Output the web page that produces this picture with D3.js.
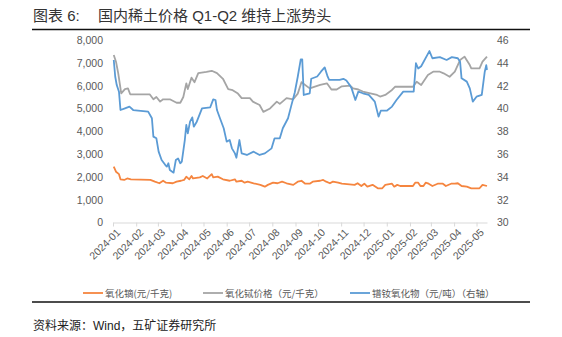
<!DOCTYPE html>
<html>
<head>
<meta charset="utf-8">
<script src="https://cdn.jsdelivr.net/npm/d3@7"></script>
<style>
  body { margin: 0; background: #fff; }
  svg { display: block; }
</style>
</head>
<body>
<svg id="chart"></svg>
<script>
// Series values: [date, value]
var dysprosium = [ // 氧化镝 (元/千克), left axis
  ["2024-01-02", 2446], ["2024-01-05", 2227], ["2024-01-09", 2119], ["2024-01-11", 1893],
  ["2024-01-16", 1865], ["2024-01-20", 1930], ["2024-01-25", 1893], ["2024-02-20", 1865],
  ["2024-02-26", 1790], ["2024-03-03", 1720], ["2024-03-08", 1830], ["2024-03-12", 1745],
  ["2024-03-21", 1720], ["2024-03-26", 1790], ["2024-04-01", 1830], ["2024-04-05", 1865],
  ["2024-04-08", 2010], ["2024-04-12", 1893], ["2024-04-15", 2040], ["2024-04-17", 1930],
  ["2024-04-26", 1980], ["2024-04-30", 2040], ["2024-05-06", 1930], ["2024-05-12", 2120],
  ["2024-05-14", 1980], ["2024-05-20", 2010], ["2024-05-27", 1893], ["2024-06-05", 1830],
  ["2024-06-12", 1893], ["2024-06-14", 1790], ["2024-06-21", 1830], ["2024-06-25", 1745],
  ["2024-06-29", 1790], ["2024-07-07", 1720], ["2024-07-16", 1650], ["2024-07-22", 1570],
  ["2024-07-26", 1650], ["2024-08-02", 1745], ["2024-08-08", 1720], ["2024-08-14", 1790],
  ["2024-08-20", 1720], ["2024-08-29", 1650], ["2024-09-04", 1790], ["2024-09-09", 1830],
  ["2024-09-14", 1700], ["2024-09-20", 1700], ["2024-09-24", 1790], ["2024-10-04", 1830],
  ["2024-10-08", 1865], ["2024-10-12", 1790], ["2024-10-17", 1720], ["2024-10-21", 1790],
  ["2024-10-28", 1745], ["2024-11-02", 1700], ["2024-11-19", 1650], ["2024-11-23", 1720],
  ["2024-11-28", 1600], ["2024-12-02", 1700], ["2024-12-06", 1570], ["2024-12-13", 1650],
  ["2024-12-20", 1500], ["2024-12-26", 1500], ["2024-12-30", 1650], ["2025-01-08", 1700],
  ["2025-01-11", 1570], ["2025-01-15", 1650], ["2025-01-19", 1600], ["2025-02-05", 1600],
  ["2025-02-08", 1745], ["2025-02-12", 1745], ["2025-02-15", 1600], ["2025-02-19", 1600],
  ["2025-02-22", 1745], ["2025-02-26", 1700], ["2025-03-03", 1600], ["2025-03-10", 1700],
  ["2025-03-17", 1700], ["2025-03-21", 1600], ["2025-03-28", 1700], ["2025-04-02", 1700],
  ["2025-04-06", 1720], ["2025-04-11", 1600], ["2025-04-18", 1570], ["2025-04-24", 1500],
  ["2025-05-05", 1500], ["2025-05-09", 1650], ["2025-05-15", 1600]
];

var terbium = [ // 氧化铽价格 (元/千克), left axis
  ["2024-01-02", 7340], ["2024-01-05", 7050], ["2024-01-08", 6540], ["2024-01-12", 5660],
  ["2024-01-17", 5850], ["2024-01-21", 5880], ["2024-01-24", 5620], ["2024-02-19", 5620],
  ["2024-02-24", 5400], ["2024-02-28", 5500], ["2024-03-04", 5300], ["2024-03-08", 5400],
  ["2024-03-17", 5400], ["2024-03-26", 5250], ["2024-03-31", 5250], ["2024-04-04", 5500],
  ["2024-04-08", 6100], ["2024-04-10", 5850], ["2024-04-15", 6350], ["2024-04-19", 6150],
  ["2024-04-24", 6550], ["2024-05-05", 6600], ["2024-05-12", 6650], ["2024-05-19", 6550],
  ["2024-05-27", 6300], ["2024-06-03", 5850], ["2024-06-09", 5800], ["2024-06-16", 5650],
  ["2024-06-21", 5450], ["2024-07-02", 5450], ["2024-07-06", 5300], ["2024-07-15", 5150],
  ["2024-07-20", 4850], ["2024-07-29", 5000], ["2024-08-07", 5300], ["2024-08-11", 5200],
  ["2024-08-20", 5450], ["2024-08-29", 5400], ["2024-09-04", 5650], ["2024-09-09", 6150],
  ["2024-09-20", 5880], ["2024-10-04", 6030], ["2024-10-13", 6100], ["2024-10-19", 5830],
  ["2024-10-26", 5830], ["2024-11-02", 5970], ["2024-11-13", 6000], ["2024-11-17", 5880],
  ["2024-11-24", 5830], ["2024-11-30", 5740], ["2024-12-10", 5660], ["2024-12-19", 5590],
  ["2024-12-23", 5520], ["2024-12-30", 5590], ["2025-01-08", 5810], ["2025-01-12", 5950],
  ["2025-02-05", 5950], ["2025-02-10", 6170], ["2025-02-16", 6030], ["2025-02-25", 6470],
  ["2025-03-04", 6610], ["2025-03-13", 6610], ["2025-03-18", 6540], ["2025-03-26", 6390],
  ["2025-04-02", 6610], ["2025-04-09", 7120], ["2025-04-15", 7270], ["2025-04-22", 6900],
  ["2025-04-24", 6760], ["2025-05-05", 6760], ["2025-05-09", 7050], ["2025-05-15", 7270]
];

var prnd = [ // 镨钕氧化物 (元/吨), right axis
  ["2024-01-02", 44.25], ["2024-01-04", 42.78], ["2024-01-06", 42.05], ["2024-01-09", 41.47],
  ["2024-01-11", 39.86], ["2024-01-17", 40.01], ["2024-01-23", 40.16], ["2024-01-28", 39.86],
  ["2024-02-17", 39.72], ["2024-02-22", 39.14], ["2024-02-24", 37.53], ["2024-02-28", 37.38],
  ["2024-03-02", 36.21], ["2024-03-06", 35.48], ["2024-03-11", 35.04], ["2024-03-13", 34.9],
  ["2024-03-15", 35.19], ["2024-03-17", 34.6], ["2024-03-22", 34.37], ["2024-03-25", 35.48],
  ["2024-03-28", 35.62], ["2024-03-31", 35.19], ["2024-04-02", 35.33], ["2024-04-06", 37.23],
  ["2024-04-08", 38.55], ["2024-04-10", 37.82], ["2024-04-13", 38.84], ["2024-04-16", 39.22],
  ["2024-04-18", 38.4], ["2024-04-22", 38.84], ["2024-04-29", 40.01], ["2024-05-10", 40.1],
  ["2024-05-14", 40.8], ["2024-05-17", 40.74], ["2024-05-19", 39.86], ["2024-05-23", 39.14],
  ["2024-05-28", 38.26], ["2024-06-01", 37.09], ["2024-06-05", 37.23], ["2024-06-08", 36.5],
  ["2024-06-12", 36.06], ["2024-06-14", 35.68], ["2024-06-18", 37.23], ["2024-06-21", 36.06],
  ["2024-06-28", 35.92], ["2024-07-07", 36.21], ["2024-07-15", 35.92], ["2024-07-22", 36.06],
  ["2024-07-31", 36.5], ["2024-08-04", 37.38], ["2024-08-11", 37.38], ["2024-08-15", 38.26],
  ["2024-08-22", 39.14], ["2024-08-26", 40.16], ["2024-08-31", 41.4], ["2024-09-04", 42.78],
  ["2024-09-08", 44.3], ["2024-09-10", 44.3], ["2024-09-12", 41.18], ["2024-09-20", 41.33],
  ["2024-09-22", 42.6], ["2024-09-30", 42.8], ["2024-10-05", 43.22], ["2024-10-10", 43.6],
  ["2024-10-14", 42.78], ["2024-10-16", 42.5], ["2024-10-21", 42.5], ["2024-10-30", 42.5],
  ["2024-11-04", 42.6], ["2024-11-08", 42.45], ["2024-11-13", 42.0], ["2024-11-15", 41.76],
  ["2024-11-20", 40.74], ["2024-11-24", 41.47], ["2024-11-30", 41.33], ["2024-12-08", 41.18],
  ["2024-12-16", 40.6], ["2024-12-21", 39.28], ["2024-12-24", 39.8], ["2025-01-01", 39.8],
  ["2025-01-08", 40.16], ["2025-01-14", 40.74], ["2025-01-23", 41.47], ["2025-02-06", 41.47],
  ["2025-02-09", 43.96], ["2025-02-12", 43.5], ["2025-02-16", 43.7], ["2025-02-27", 45.03],
  ["2025-03-03", 44.4], ["2025-03-13", 44.5], ["2025-03-22", 44.25], ["2025-03-29", 44.5],
  ["2025-04-06", 44.4], ["2025-04-09", 44.1], ["2025-04-11", 42.64], ["2025-04-18", 42.35],
  ["2025-04-22", 41.76], ["2025-04-26", 40.6], ["2025-05-01", 41.03], ["2025-05-08", 41.18],
  ["2025-05-12", 43.22], ["2025-05-14", 43.8], ["2025-05-15", 43.37]
];

// Axis ticks
var leftTicks = [0, 1000, 2000, 3000, 4000, 5000, 6000, 7000, 8000];
var rightTicks = [30, 32, 34, 36, 38, 40, 42, 44, 46];
var xStart = "2024-01-01", xEnd = "2025-05-15";

var legendNames = ["氧化镝(元/千克)", "氧化铽价格（元/千克）", "镨钕氧化物（元/吨）（右轴）"];
var colors = ["#F5853F", "#A5A5A5", "#5B9BD5"];

var W = 562, H = 337;
var svg = d3.select("#chart").attr("width", W).attr("height", H);
var parse = d3.timeParse("%Y-%m-%d");

var plot = {left: 113, right: 487, top: 40, bottom: 222.5};

var x = d3.scaleTime()
    .domain([parse(xStart), parse(xEnd)])
    .range([plot.left, plot.right]);
var yL = d3.scaleLinear().domain([0, 8000]).range([plot.bottom, plot.top]);
var yR = d3.scaleLinear().domain([30, 46]).range([plot.bottom, plot.top]);

var numFont = "'Liberation Sans', Arial, sans-serif";
var cjkFont = "'Liberation Sans', 'Noto Sans CJK SC', sans-serif";

// Title and rules
var title = svg.append("text")
    .attr("y", 21)
    .attr("font-family", cjkFont).attr("font-size", 15).attr("fill", "#333");
title.append("tspan").attr("x", 33).text("图表 6:");
title.append("tspan").attr("x", 98).text("国内稀土价格 Q1-Q2 维持上涨势头");
svg.append("line").attr("x1", 32).attr("x2", 530).attr("y1", 29.5).attr("y2", 29.5)
    .attr("stroke", "#111").attr("stroke-width", 1.5);
svg.append("line").attr("x1", 32).attr("x2", 530).attr("y1", 302).attr("y2", 302)
    .attr("stroke", "#111").attr("stroke-width", 1.5);

// Left axis
svg.append("g")
    .attr("transform", "translate(" + (plot.left - 10) + ",0)")
    .call(d3.axisLeft(yL).tickValues(leftTicks).tickFormat(d3.format(",")).tickSize(0).tickPadding(0))
    .call(g => g.select(".domain").remove())
    .call(g => g.selectAll("text").attr("fill", "#595959").attr("font-size", 10.5).attr("font-family", numFont));

// Right axis
svg.append("g")
    .attr("transform", "translate(" + (plot.right + 10) + ",0)")
    .call(d3.axisRight(yR).tickValues(rightTicks).tickSize(0).tickPadding(0))
    .call(g => g.select(".domain").remove())
    .call(g => g.selectAll("text").attr("fill", "#595959").attr("font-size", 10.5).attr("font-family", numFont));

// Bottom axis
svg.append("g")
    .attr("transform", "translate(0," + plot.bottom + ")")
    .call(d3.axisBottom(x).ticks(d3.timeMonth.every(1)).tickFormat(d3.timeFormat("%Y-%m"))
        .tickSizeInner(4).tickSizeOuter(0))
    .call(g => g.select(".domain").attr("stroke", "#D9D9D9"))
    .call(g => g.selectAll(".tick line").attr("stroke", "#D9D9D9"))
    .call(g => g.selectAll("text")
        .attr("fill", "#595959").attr("font-size", 10.5).attr("font-family", numFont)
        .attr("text-anchor", "end")
        .attr("dx", "-0.2em").attr("dy", "0.55em")
        .attr("transform", "rotate(-45)"));

// Lines
var lineL = d3.line().x(d => x(parse(d[0]))).y(d => yL(d[1]));
var lineR = d3.line().x(d => x(parse(d[0]))).y(d => yR(d[1]));

svg.append("path").datum(terbium).attr("d", lineL)
    .attr("fill", "none").attr("stroke", colors[1]).attr("stroke-width", 1.8).attr("stroke-linejoin", "round");
svg.append("path").datum(prnd).attr("d", lineR)
    .attr("fill", "none").attr("stroke", colors[2]).attr("stroke-width", 1.8).attr("stroke-linejoin", "round");
svg.append("path").datum(dysprosium).attr("d", lineL)
    .attr("fill", "none").attr("stroke", colors[0]).attr("stroke-width", 1.8).attr("stroke-linejoin", "round");

// Legend
var legendX = [83, 203, 350];
var legend = svg.append("g").selectAll("g")
    .data(legendNames)
    .enter().append("g")
    .attr("transform", (d, i) => "translate(" + legendX[i] + ",293)");
legend.append("line").attr("x1", 0).attr("x2", 20)
    .attr("stroke", (d, i) => colors[i]).attr("stroke-width", 1.8);
legend.append("text").attr("x", 22).attr("y", 3.5)
    .attr("font-family", "'Noto Sans CJK SC', sans-serif").attr("font-size", 9.5).attr("fill", "#595959")
    .text(d => d);

// Source
svg.append("text")
    .attr("x", 33).attr("y", 330)
    .attr("font-family", cjkFont).attr("font-size", 12).attr("fill", "#222")
    .text("资料来源：Wind，五矿证券研究所");
</script>
</body>
</html>
